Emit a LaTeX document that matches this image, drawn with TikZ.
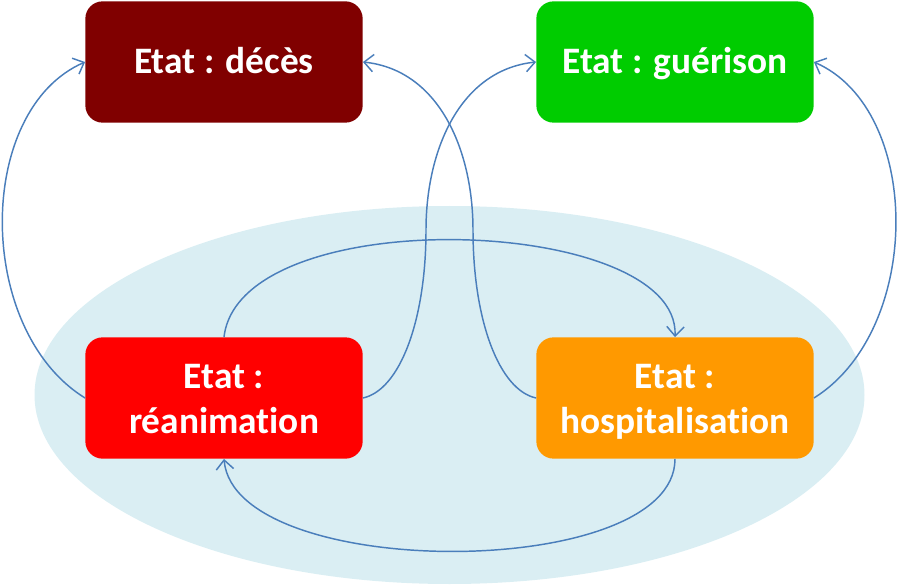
\documentclass[tikz,border=0pt]{standalone}
\usepackage{fontspec}
\setmainfont{Carlito}[Ligatures=NoCommon]
\usetikzlibrary{arrows.meta}
\definecolor{cdeces}{RGB}{128,0,0}
\definecolor{cgueri}{RGB}{0,204,0}
\definecolor{creani}{RGB}{255,0,0}
\definecolor{chosp}{RGB}{255,153,0}
\definecolor{cell}{RGB}{218,238,243}
\definecolor{cline}{RGB}{74,126,187}
\newcommand\onestrut{\rule[-0.2em]{0pt}{1em}}
\newcommand\topstrut{\rule{0pt}{0.9em}}
\newcommand\botstrut{\rule[-0.2em]{0pt}{0.2em}}
\tikzset{
  statebox/.style={rounded corners=13pt, minimum width=208pt, minimum height=91pt,
    inner sep=0pt, align=center, text=white,
    font=\fontsize{28}{34}\selectfont\bfseries},
  link/.style={draw=cline, line width=1.1pt,
    -{Straight Barb[length=7pt,width=13pt,line width=1.1pt]}}
}
\begin{document}
\begin{tikzpicture}[x=0.75pt,y=-0.75pt]
\useasboundingbox (0,0) rectangle (901,585);
\fill[cell] (449.5,395) ellipse [x radius=415, y radius=189];
\node[statebox, fill=cdeces] (dec) at (224,62) {\onestrut Etat : décès};
\node[statebox, fill=cgueri] (gue) at (675,62) {\onestrut Etat : guérison};
\node[statebox, fill=creani] (rea) at (224,398) {\topstrut Etat :\\réanimation\botstrut};
\node[statebox, fill=chosp] (hos) at (675,398) {\topstrut Etat :\\hospitalisation\botstrut};
\draw[link] (rea.west) .. controls (-25,330) and (-25,110) .. (dec.west);
\draw[link] (hos.west) .. controls (499,390) and (473,320) .. (473,230)
  .. controls (473,150) and (439,70) .. (dec.east);
\draw[link] (rea.east) .. controls (400,390) and (426,320) .. (426,230)
  .. controls (426,150) and (460,70) .. (gue.west);
\draw[link] (hos.east) .. controls (923,330) and (923,110) .. (gue.east);
\draw[link] (rea.north) .. controls (240,200) and (680,215) .. (hos.north);
\draw[link] (hos.south) .. controls (675,582) and (235,582) .. (rea.south);
\end{tikzpicture}
\end{document}
